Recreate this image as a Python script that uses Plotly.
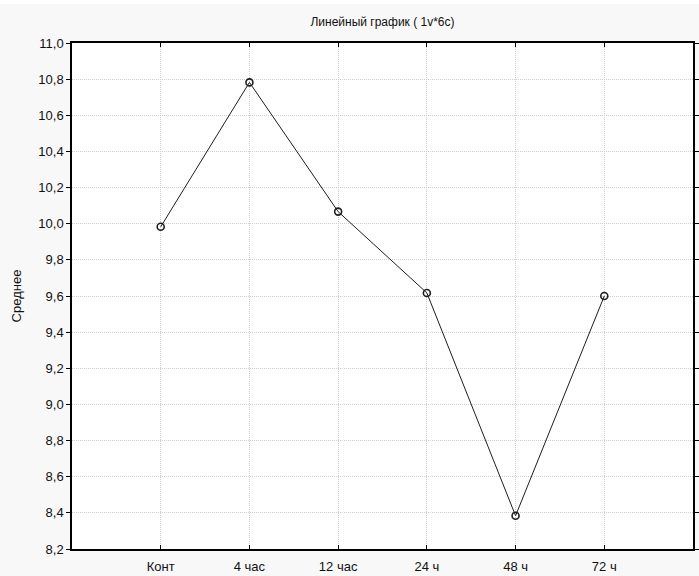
import plotly.graph_objects as go

categories = ["Конт", "4 час", "12 час", "24 ч", "48 ч", "72 ч"]
means = [9.983, 10.782, 10.067, 9.617, 8.384, 9.600]
title_text = "Линейный график ( 1v*6c)"
y_title = "Среднее"

fig = go.Figure()
fig.add_trace(go.Scatter(
    x=list(range(len(categories))), y=means, mode="lines+markers",
    line=dict(color="#1e1e1e", width=1),
    marker=dict(symbol="circle-open", size=7, color="#1e1e1e", line=dict(width=1.6)),
    showlegend=False,
))

H_PLOT = 576 - 43 - 27
fig.add_shape(type="rect", xref="paper", yref="paper", x0=-1, x1=2,
              y0=1 + 39 / H_PLOT, y1=1 + 43 / H_PLOT,
              fillcolor="white", line_width=0, layer="below")

font_family = "Liberation Sans, Arial, sans-serif"
fig.update_layout(
    width=699, height=576,
    margin=dict(l=72, r=6, t=43, b=27, autoexpand=False),
    paper_bgcolor="#f8f8f8", plot_bgcolor="white",
    separators=", ",
    font=dict(family=font_family, size=13, color="#111"),
    title=dict(text=title_text, x=0.5, xanchor="center", y=1 - 22 / 576, yanchor="middle",
               xref="paper", font=dict(size=12, color="#111")),
    xaxis=dict(
        range=[-1, 6], tickmode="array", tickvals=list(range(len(categories))),
        ticktext=categories, showline=True, linecolor="black", linewidth=1.5, mirror="ticks",
        ticks="inside", ticklen=4, tickcolor="black", automargin=False,
        showgrid=True, gridcolor="#cfcfcf", griddash="1px,1px", gridwidth=1,
        zeroline=False, tickfont=dict(size=13), ticklabelstandoff=5,
    ),
    yaxis=dict(
        range=[8.2, 11.0], tick0=8.2, dtick=0.2, tickformat=".1f",
        showline=True, linecolor="black", linewidth=1.5, mirror="ticks",
        ticks="outside", ticklen=4, tickcolor="black", automargin=False,
        showgrid=True, gridcolor="#cfcfcf", griddash="1px,1px", gridwidth=1,
        zeroline=False, tickfont=dict(size=13),
        title=dict(text=y_title, font=dict(size=13), standoff=14),
    ),
)

fig.write_html("out.html")
